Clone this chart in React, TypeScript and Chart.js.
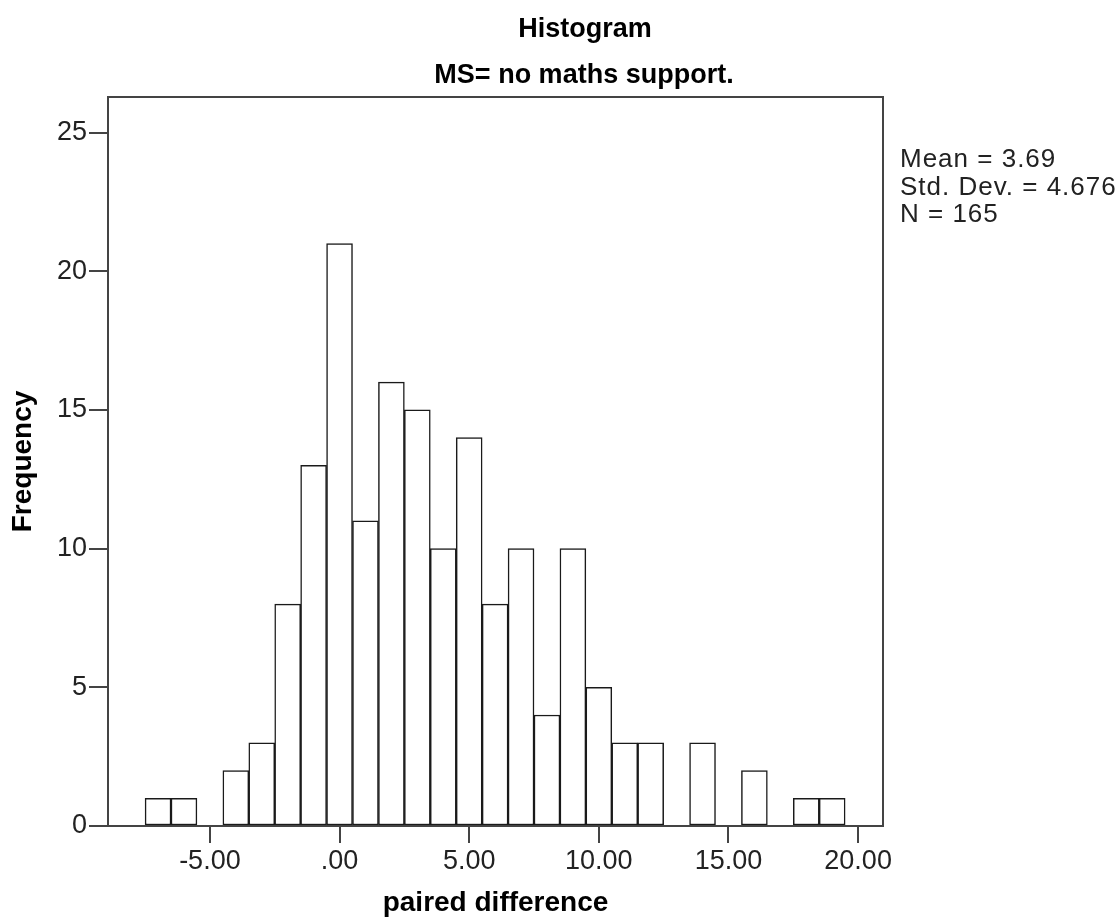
import React, { useEffect, useRef } from "react";
import { Chart, registerables } from "chart.js";

Chart.register(...registerables);

// ---- data ----
const binCenters = [-7, -6, -5, -4, -3, -2, -1, 0, 1, 2, 3, 4, 5, 6, 7, 8, 9, 10, 11, 12, 13, 14, 15, 16, 17, 18, 19];
const frequencies = [1, 1, 0, 2, 3, 8, 13, 21, 11, 16, 15, 10, 14, 8, 10, 4, 10, 5, 3, 3, 0, 3, 0, 2, 0, 1, 1];
const xTickValues = [-5, 0, 5, 10, 15, 20];
const yTickValues = [0, 5, 10, 15, 20, 25];
const xRange = [-8.93, 20.96];
const yRange = [0, 26.28];
const titleText = "Histogram";
const subtitleText = "MS= no maths support.";
const statsLines = ["Mean = 3.69", "Std. Dev. = 4.676", "N = 165"];
const xAxisTitle = "paired difference";
const yAxisTitle = "Frequency";

const FONT = "'Liberation Sans', Arial, sans-serif";
const INK = "#222";
const AXIS = "#444";

function formatX(v: number): string {
  const s = Math.abs(v).toFixed(2);
  const t = s.startsWith("0") ? s.slice(1) : s;
  return (v < 0 ? "-" : "") + t;
}

const annotatePlugin = {
  id: "annotate",
  afterDraw(chart: any) {
    const { ctx, chartArea } = chart;
    ctx.save();
    // frame
    ctx.strokeStyle = AXIS;
    ctx.lineWidth = 2;
    ctx.strokeRect(chartArea.left, chartArea.top, chartArea.right - chartArea.left, chartArea.bottom - chartArea.top);
    // titles
    ctx.fillStyle = "#000";
    ctx.textAlign = "center";
    ctx.textBaseline = "alphabetic";
    ctx.font = `bold 27px ${FONT}`;
    ctx.fillText(titleText, 585, 37);
    ctx.fillText(subtitleText, 584, 83);
    // stats
    ctx.fillStyle = INK;
    ctx.textAlign = "left";
    ctx.font = `26px ${FONT}`;
    try { (ctx as any).letterSpacing = "1px"; } catch (e) {}
    const baselines = [167, 195, 222];
    statsLines.forEach((line, i) => ctx.fillText(line, chartArea.right + 17, baselines[i]));
    ctx.restore();
  },
};

export default function App() {
  const canvasRef = useRef<HTMLCanvasElement | null>(null);

  useEffect(() => {
    if (!canvasRef.current) return;
    const points = binCenters
      .map((x, i) => ({ x, y: frequencies[i] }))
      .filter((p) => p.y > 0);

    const chart = new Chart(canvasRef.current, {
      type: "bar",
      data: {
        datasets: [
          {
            data: points as any,
            backgroundColor: "#ffffff",
            borderColor: "#1a1a1a",
            borderWidth: 1.5,
            borderSkipped: false,
            barPercentage: 1,
            categoryPercentage: 1,
          },
        ],
      },
      options: {
        responsive: false,
        animation: false,
        events: [],
        layout: { padding: { top: 97, right: 234, left: 0, bottom: 0 } },
        plugins: {
          legend: { display: false },
          tooltip: { enabled: false },
          title: { display: false },
        },
        scales: {
          x: {
            type: "linear",
            min: xRange[0],
            max: xRange[1],
            offset: false,
            afterBuildTicks: (scale: any) => {
              scale.ticks = xTickValues.map((v) => ({ value: v }));
            },
            afterFit: (scale: any) => {
              scale.height = 96;
            },
            ticks: {
              color: INK,
              font: { family: FONT, size: 27 },
              padding: 2,
              maxRotation: 0,
              autoSkip: false,
              callback: (v: any) => formatX(Number(v)),
            },
            grid: {
              display: true,
              offset: false,
              drawOnChartArea: false,
              drawTicks: true,
              tickLength: 17,
              color: AXIS,
              lineWidth: 2,
            },
            border: { display: true, color: AXIS, width: 2 },
            title: {
              display: true,
              text: xAxisTitle,
              color: "#000",
              font: { family: FONT, size: 28, weight: "bold" },
              padding: { top: 0, bottom: 2 },
            },
          },
          y: {
            type: "linear",
            min: yRange[0],
            max: yRange[1],
            afterBuildTicks: (scale: any) => {
              scale.ticks = yTickValues.map((v) => ({ value: v }));
            },
            afterFit: (scale: any) => {
              scale.width = 108;
            },
            ticks: {
              color: INK,
              font: { family: FONT, size: 27 },
              padding: 2,
              autoSkip: false,
              callback: (v: any) => String(v),
            },
            grid: {
              display: true,
              offset: false,
              drawOnChartArea: false,
              drawTicks: true,
              tickLength: 19,
              color: AXIS,
              lineWidth: 2,
            },
            border: { display: true, color: AXIS, width: 2 },
            title: {
              display: true,
              text: yAxisTitle,
              color: "#000",
              font: { family: FONT, size: 28, weight: "bold" },
              padding: { top: 6, bottom: 0 },
            },
          },
        },
      },
      plugins: [annotatePlugin],
    });
    return () => chart.destroy();
  }, []);

  return (
    <div style={{ position: "absolute", left: 0, top: 0, width: 1117, height: 922, background: "#fff" }}>
      <canvas ref={canvasRef} width={1117} height={922} style={{ display: "block" }} />
    </div>
  );
}
